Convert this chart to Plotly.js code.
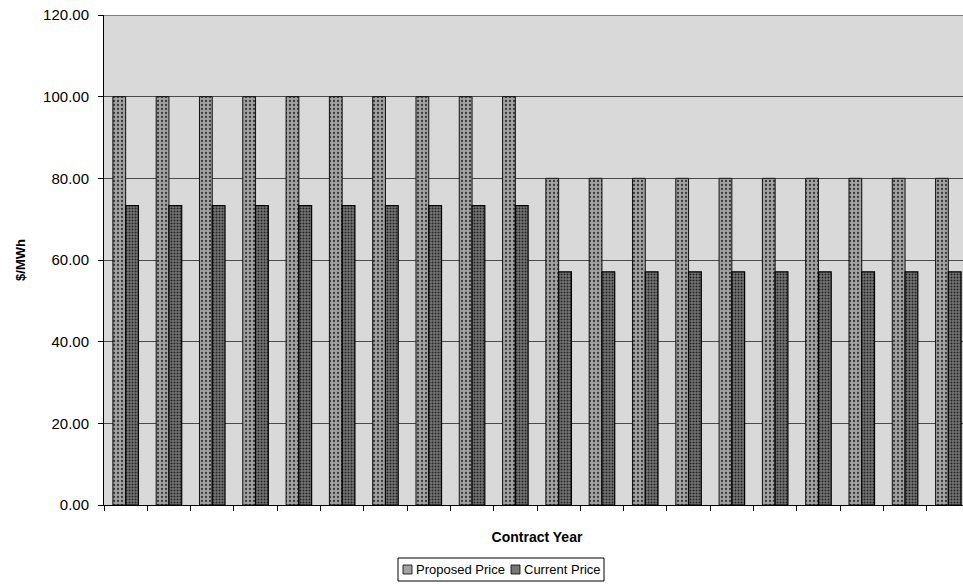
<!DOCTYPE html>
<html>
<head>
<meta charset="utf-8">
<script src="https://cdn.plot.ly/plotly-3.0.1.min.js"></script>
<style>
html,body{margin:0;padding:0;overflow:hidden;background:#fff;}
#chart{width:972px;height:584px;}
</style>
</head>
<body>
<div id="chart"></div>
<script>
var years = [1,2,3,4,5,6,7,8,9,10,11,12,13,14,15,16,17,18,19,20];
var proposedPrice = [100,100,100,100,100,100,100,100,100,100,80,80,80,80,80,80,80,80,80,80];
var currentPrice = [73.3,73.3,73.3,73.3,73.3,73.3,73.3,73.3,73.3,73.3,57.1,57.1,57.1,57.1,57.1,57.1,57.1,57.1,57.1,57.1];
var seriesNames = ['Proposed Price', 'Current Price'];
var seriesColors = ['#a2a2a2', '#767676'];
var yTicks = [0,20,40,60,80,100,120];
var yTickText = ['0.00','20.00','40.00','60.00','80.00','100.00','120.00'];

var fontFam = 'Arial, "Liberation Sans", sans-serif';
var W = 972, H = 584, M = {l: 104, r: 2, t: 15, b: 79};
var PW = W - M.l - M.r, PH = H - M.t - M.b;
function px(x) { return (x - M.l) / PW; }
function py(y) { return (H - M.b - y) / PH; }

var traces = [
  {
    type: 'bar', name: seriesNames[0], x: years.map(String), y: proposedPrice,
    marker: {color: seriesColors[0], line: {color: '#111', width: 1},
      pattern: {shape: '.', fgcolor: '#3a3a3a', bgcolor: seriesColors[0], size: 4, solidity: 0.25}},
    hoverinfo: 'y'
  },
  {
    type: 'bar', name: seriesNames[1], x: years.map(String), y: currentPrice,
    marker: {color: seriesColors[1], line: {color: '#000', width: 1.2},
      pattern: {shape: '.', fgcolor: '#222', bgcolor: seriesColors[1], size: 3, solidity: 0.35}},
    hoverinfo: 'y'
  }
];

// legend drawn as a compact box (Excel style)
var legLeft = 398, legTop = 558, legH = 23, legW = 206;
var shapes = [
  {type: 'line', xref: 'paper', yref: 'y', x0: 0, x1: 1, y0: 120, y1: 120, line: {color: '#222', width: 1}},
  {type: 'rect', xref: 'paper', yref: 'paper', x0: px(legLeft), x1: px(legLeft + legW), y0: py(legTop), y1: py(legTop + legH),
   fillcolor: '#fff', line: {color: '#000', width: 1}}
];
var annotations = [];
var itemX = [legLeft + 5, legLeft + 113];
for (var i = 0; i < seriesNames.length; i++) {
  var sx = itemX[i], sy = legTop + legH / 2;
  shapes.push({type: 'rect', xref: 'paper', yref: 'paper', x0: px(sx), x1: px(sx + 9), y0: py(sy - 4.5), y1: py(sy + 4.5),
    fillcolor: seriesColors[i], line: {color: '#000', width: 0.8}});
  annotations.push({xref: 'paper', yref: 'paper', x: px(sx + 11), y: py(sy), xanchor: 'left', yanchor: 'middle',
    text: seriesNames[i], showarrow: false, font: {family: fontFam, size: 13, color: '#000'}});
}

var layout = {
  width: W, height: H,
  margin: {l: M.l, r: M.r, t: M.t, b: M.b, autoexpand: false},
  paper_bgcolor: '#ffffff',
  plot_bgcolor: '#d9d9d9',
  barmode: 'group', bargap: 0.41, bargroupgap: 0,
  font: {family: fontFam, size: 14, color: '#000'},
  showlegend: false,
  xaxis: {
    type: 'category', showticklabels: false, ticks: 'outside', ticklen: 5,
    tickson: 'boundaries', tickcolor: '#000', showgrid: false, automargin: false,
    showline: true, linecolor: '#000', linewidth: 1,
    title: {text: '<b>Contract Year</b>', font: {family: fontFam, size: 14, color: '#000'}, standoff: 27}
  },
  yaxis: {
    range: [0, 120], tickvals: yTicks, ticktext: yTickText, automargin: false,
    ticks: 'outside', ticklen: 5, tickcolor: '#000', ticklabelstandoff: 6,
    showgrid: true, gridcolor: '#4a4a4a', gridwidth: 1,
    showline: true, linecolor: '#000', linewidth: 1, zeroline: false,
    tickfont: {family: fontFam, size: 15, color: '#000'},
    title: {text: '<b>$/MWh</b>', font: {family: fontFam, size: 13, color: '#000'}, standoff: 14}
  },
  shapes: shapes,
  annotations: annotations
};

Plotly.newPlot('chart', traces, layout, {displayModeBar: false, staticPlot: true});
</script>
</body>
</html>
